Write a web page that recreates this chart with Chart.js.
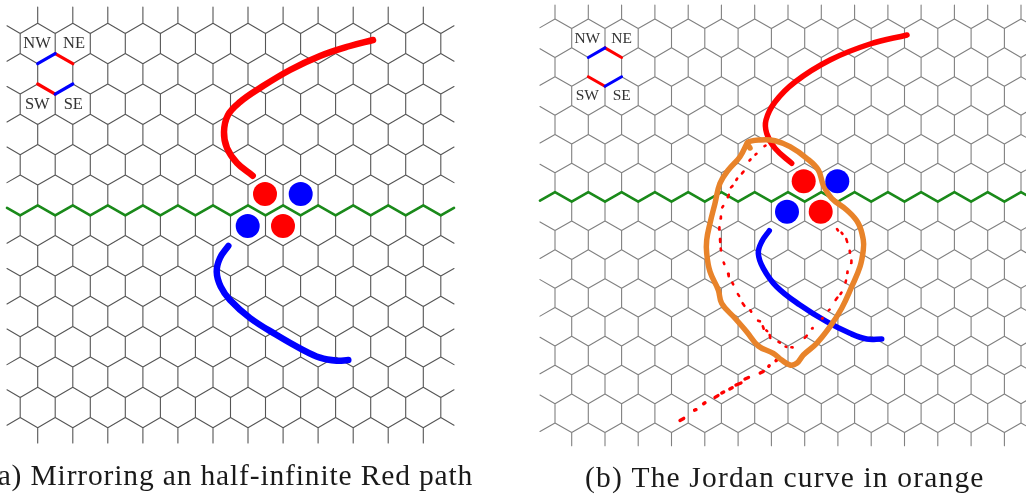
<!DOCTYPE html>
<html>
<head>
<meta charset="utf-8">
<title>Mirroring and the Jordan curve</title>
<script src="https://cdn.jsdelivr.net/npm/chart.js@4/dist/chart.umd.min.js"></script>
<style>
  html, body { margin: 0; padding: 0; background: #fff; overflow: hidden; }
</style>
</head>
<body>
<canvas id="hexChart" width="1026" height="496"></canvas>
<script>
// left board lattice
const leftStubX = [37.7, 72.8, 107.8, 142.9, 177.9, 213, 248, 283.1, 318.1, 353.2, 388.2, 423.3];
const leftHalfX = [20.2, 55.2, 90.3, 125.3, 160.4, 195.4, 230.5, 265.5, 300.6, 335.6, 370.7, 405.7, 440.8];
const leftPeakY = [23.3, 53.6, 84, 114.3, 144.6, 175, 205.3, 235.6, 266, 296.3, 326.6, 357, 387.3, 417.6];

// right board lattice
const rightStubX = [555, 588.3, 621.6, 654.9, 688.2, 721.4, 754.7, 788, 821.3, 854.6, 887.9, 921.1, 954.4, 987.7, 1021];
const rightHalfX = [571.7, 605, 638.2, 671.5, 704.8, 738.1, 771.4, 804.7, 837.9, 871.2, 904.5, 937.8, 971.1, 1004.4];
const rightPeakY = [19, 47.85, 76.7, 105.55, 134.4, 163.25, 192.1, 220.95, 249.8, 278.65, 307.5, 336.35, 365.2, 394.05, 422.9];

// mirrored paths
const leftRedPath = [[373, 40], [350, 46], [320, 56], [290, 70], [260, 88], [240, 102], [228, 115], [224, 132], [227, 148], [237, 163], [252.7, 175.7]];
const leftBluePath = [[228.3, 246], [220, 258], [216.7, 271.7], [220.7, 286.7], [230, 300], [250, 318], [276.7, 335], [300, 348.3], [320, 357.7], [336.7, 360.7], [348.3, 360]];
const rightRedPath = [[907, 35], [870, 44], [830, 60], [795, 82], [775, 102], [766, 120], [766.7, 133.3], [775, 148.3], [791.7, 163.3]];
const rightBluePath = [[769.3, 230.7], [761.7, 241.7], [758.3, 253.3], [763.3, 268.3], [776.7, 286.7], [800, 305], [826.7, 321.7], [850, 333.3], [866.7, 339], [881.7, 339]];

const jordanCurve = [[750, 148], [747.3, 142.7], [760, 140], [775, 140.7], [790, 146.7], [806.7, 158.3], [818.3, 170], [823.3, 185], [831.7, 198.3], [846.7, 210], [858.3, 223.3], [863.3, 240], [863.3, 250], [860, 266.7], [851.7, 286.7], [841.7, 308.3], [830, 326.7], [816.7, 343.3], [803.3, 355], [796.7, 363.3], [790, 365], [781.7, 360], [773.3, 353.3], [758.3, 346], [746.7, 331.7], [735, 318.3], [721.7, 303.3], [718.3, 290], [710, 271.7], [706.7, 253.3], [706.7, 240], [710, 223.3], [715, 203.3], [720, 183.3], [728.3, 170], [740, 156.7], [747.3, 142.7]];

// dashes of the dotted red path, start and end of each
const mirrorDashes = [
  [[764.5, 146.2], [765.5, 145.7]], [[755.5, 154.6], [756.5, 153.8]], [[749.5, 160.5], [750.5, 159.5]], [[742, 173.4], [743.5, 171.6]],
  [[736.3, 180], [737.2, 178.5]], [[731, 187.4], [732.5, 186]], [[727.8, 197.2], [728.8, 194.8]], [[722.3, 207.4], [723.2, 206]],
  [[720.6, 218.4], [720.9, 216.6]], [[719.1, 229.4], [719.4, 227.2]], [[720, 239], [720.2, 242]], [[720.7, 248.6], [721, 250.4]],
  [[723.7, 262.5], [724.3, 264]], [[728.1, 273.8], [728.7, 276.2]], [[732.3, 282.6], [733.2, 284.4]], [[737.9, 294.1], [739.1, 295.9]],
  [[742.6, 303.2], [744.4, 305.8]], [[750.3, 310.4], [751.2, 311.6]], [[758.1, 320.7], [759.9, 321.3]], [[762.8, 326.3], [763.7, 328.7]],
  [[766.3, 330.3], [767.2, 331.2]], [[769.7, 335], [770.3, 338]], [[778.5, 341.8], [780, 342.7]], [[785.6, 346.6], [786.4, 346.9]],
  [[791.4, 347.3], [792.6, 347.4]], [[804.7, 337.8], [806.8, 335.7]], [[812, 328.5], [812.6, 328]], [[822, 318.5], [822.6, 318]],
  [[828.7, 310.4], [829.6, 309.6]], [[835.6, 300], [837.4, 297.5]], [[840.5, 294], [841.5, 292.5]], [[845.5, 282.5], [846, 280.5]],
  [[847.2, 273], [847.5, 271.5]], [[851.1, 263], [851.4, 260.5]], [[850, 252.8], [849.7, 250.7]], [[847.2, 242], [846.3, 239]],
  [[841.5, 232.7], [842.5, 233.8]], [[837, 229], [838, 230.5]]
];
const tailDashes = [
  [[776, 360.6], [777.5, 359.4]], [[768.8, 366.2], [769.2, 365.8]], [[760.2, 373], [763.3, 371.5]], [[745, 379], [748.5, 377.5]],
  [[736, 385], [741, 383]], [[729.8, 389], [732.2, 387.8]], [[721.8, 393], [723.7, 392]], [[715, 397.4], [718, 395.6]],
  [[703.6, 403.7], [705, 402.8]], [[694.6, 410.2], [696, 409.7]], [[680, 420.4], [683.7, 418.4]]
];

// played cells
const redCells = [[265, 194], [283, 226], [803.7, 181.3], [820.7, 211.7]];
const blueCells = [[300.7, 194], [247.7, 226], [837.3, 181.3], [787, 211.7]];

const cornerLabels = ['NW', 'NE', 'SW', 'SE'];
const captionLeft = '(a) Mirroring an half-infinite Red path';
const captionRight = '(b) The Jordan curve in orange';

const gap = { x: null, y: null };
const pts = arr => arr.map(p => ({ x: p[0], y: p[1] }));

// one row of the lattice, left to right, with the clipped bits at both ends
function rowPoints(peakXs, valleyXs, peak, valley, edgeL, edgeR) {
  const out = [];
  peakXs.forEach(x => out.push({ x: x, y: peak }));
  valleyXs.forEach(x => out.push({ x: x, y: valley }));
  out.sort((a, b) => a.x - b.x);
  const step = out[1].x - out[0].x;
  const first = out[0], last = out[out.length - 1];
  const fl = (first.x - edgeL) / step, fr = (edgeR - last.x) / step;
  const startY = first.y + (out[1].y - first.y) * fl;
  const endY = last.y + (out[out.length - 2].y - last.y) * fr;
  return [{ x: edgeL, y: startY }].concat(out, [{ x: edgeR, y: endY }]);
}

function latticeRows(stubX, halfX, peakY, drop, edgeL, edgeR) {
  return peakY.map((y, r) => r % 2 === 0
    ? rowPoints(stubX, halfX, y, y + drop, edgeL, edgeR)
    : rowPoints(halfX, stubX, y, y + drop, edgeL, edgeR));
}

function latticeEdges(stubX, halfX, peakY, drop, topY, botY) {
  const out = [];
  stubX.forEach(x => out.push({ x: x, y: topY }, { x: x, y: peakY[0] }, gap));
  for (let r = 0; r < peakY.length - 1; r++) {
    (r % 2 === 0 ? halfX : stubX).forEach(x => out.push({ x: x, y: peakY[r] + drop }, { x: x, y: peakY[r + 1] }, gap));
  }
  (peakY.length % 2 === 0 ? stubX : halfX).forEach(x => out.push({ x: x, y: peakY[peakY.length - 1] + drop }, { x: x, y: botY }, gap));
  return out;
}

const leftRows = latticeRows(leftStubX, leftHalfX, leftPeakY, 10.1, 7, 454);
const rightRows = latticeRows(rightStubX, rightHalfX, rightPeakY, 9.6, 540, 1026);

const joinRows = rows => rows.reduce((acc, r) => acc.concat(r, [gap]), []);

const leftGrid = joinRows(leftRows).concat(latticeEdges(leftStubX, leftHalfX, leftPeakY, 10.1, 7, 443));
const rightGrid = joinRows(rightRows).concat(latticeEdges(rightStubX, rightHalfX, rightPeakY, 9.6, 5, 445.7));

function stroke(data, color, width, tension) {
  return {
    data: data, showLine: true, borderColor: color, borderWidth: width,
    pointRadius: 0, tension: tension || 0, spanGaps: false,
    borderCapStyle: 'round', borderJoinStyle: 'round'
  };
}

function discs(data, color, r) {
  return { data: pts(data), showLine: false, pointRadius: r, pointBackgroundColor: color, pointBorderWidth: 0 };
}

// small bicoloured hexagon in the corner, taken from lattice vertices
function cornerHex(left, mid, right, rowA, rowB, drop) {
  const a = { x: left, y: rowA + drop };
  const top = { x: mid, y: rowA };
  const b = { x: right, y: rowA + drop };
  const c = { x: left, y: rowB };
  const bot = { x: mid, y: rowB + drop };
  const d = { x: right, y: rowB };
  return { blue: [a, top, gap, bot, d], red: [top, b, gap, c, bot] };
}
const hexL = cornerHex(leftStubX[0], leftHalfX[1], leftStubX[1], leftPeakY[1], leftPeakY[2], 10.1);
const hexR = cornerHex(rightStubX[1], rightHalfX[1], rightStubX[2], rightPeakY[1], rightPeakY[2], 9.6);

const dashLine = list => list.reduce((acc, d) => acc.concat(pts(d), [gap]), []);

// first in the list ends up on top
const datasets = [
  discs(redCells, '#ff0000', 12),
  discs(blueCells, '#0000ff', 12),
  stroke(pts(jordanCurve), '#e8832a', 5.5, 0.4),
  stroke(dashLine(mirrorDashes), '#ff0000', 2.6),
  stroke(dashLine(tailDashes), '#ff0000', 3.4),
  stroke(pts(leftRedPath), '#ff0000', 6.5, 0.4),
  stroke(pts(rightRedPath), '#ff0000', 5.5, 0.4),
  stroke(pts(leftBluePath), '#0000ff', 6.5, 0.4),
  stroke(pts(rightBluePath), '#0000ff', 5.5, 0.4),
  stroke(hexL.blue, '#0000ff', 3.2),
  stroke(hexL.red, '#ff0000', 3.2),
  stroke(hexR.blue, '#0000ff', 3),
  stroke(hexR.red, '#ff0000', 3),
  stroke(leftRows[6], '#1a8a1a', 2.6),
  stroke(rightRows[6], '#1a8a1a', 2.6),
  stroke(leftGrid, '#555555', 1.1),
  stroke(rightGrid, '#808080', 1.1)
];

const textPlugin = {
  id: 'boardText',
  afterDatasetsDraw(chart) {
    const c = chart.ctx, sx = chart.scales.x, sy = chart.scales.y;
    const put = (txt, x, y, font, color, spacing, align, base) => {
      c.font = font;
      c.fillStyle = color;
      c.letterSpacing = spacing + 'px';
      c.textAlign = align;
      c.textBaseline = base;
      c.fillText(txt, sx.getPixelForValue(x), sy.getPixelForValue(y));
    };
    const lf = '16.5px "Liberation Serif"', rf = '15.5px "Liberation Serif"';
    c.save();
    [[37, 44], [74, 44], [37.3, 104.7], [73.3, 104.7]].forEach((p, i) => put(cornerLabels[i], p[0], p[1], lf, '#333', 0, 'center', 'middle'));
    [[587.3, 38.7], [621.7, 38.7], [587.3, 96], [621.7, 96]].forEach((p, i) => put(cornerLabels[i], p[0], p[1], rf, '#333', 0, 'center', 'middle'));
    put(captionLeft, -13, 485, '29.5px "Liberation Serif"', '#1a1a1a', 0.85, 'left', 'alphabetic');
    put(captionRight, 585, 486.5, '29.5px "Liberation Serif"', '#1a1a1a', 1.17, 'left', 'alphabetic');
    c.restore();
  }
};

new Chart(document.getElementById('hexChart').getContext('2d'), {
  type: 'scatter',
  data: { datasets: datasets },
  options: {
    responsive: false,
    animation: false,
    layout: { padding: 0, autoPadding: false },
    plugins: { legend: { display: false }, tooltip: { enabled: false } },
    scales: {
      x: { type: 'linear', min: 0, max: 1026, display: false },
      y: { type: 'linear', min: 0, max: 496, reverse: true, display: false }
    }
  },
  plugins: [textPlugin]
});
</script>
</body>
</html>
